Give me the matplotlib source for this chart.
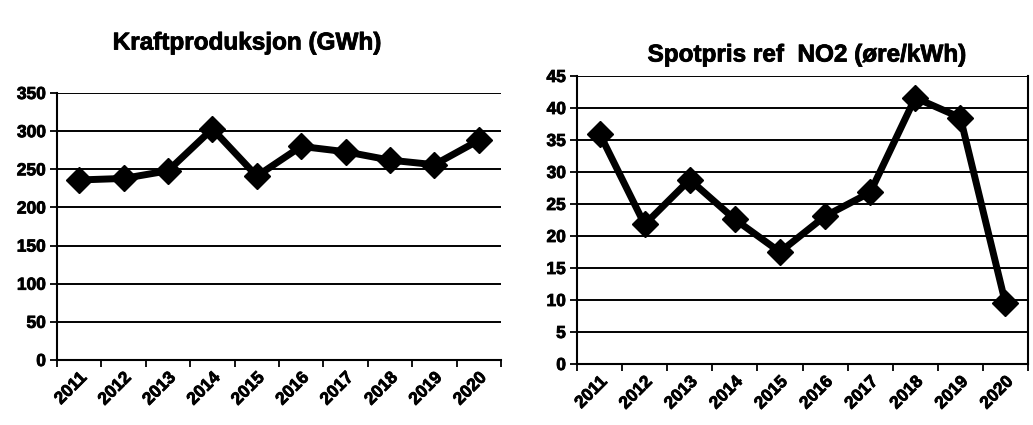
import matplotlib
matplotlib.use("Agg")
import matplotlib.pyplot as plt
import matplotlib.patheffects as pe
import numpy as np

plt.rcParams['font.family'] = ['Liberation Sans', 'DejaVu Sans']
plt.rcParams['font.weight'] = 'bold'

years = ['2011', '2012', '2013', '2014', '2015', '2016', '2017', '2018', '2019', '2020']
kraft_gwh = [236, 238, 248, 303, 241, 280, 273, 262, 256, 288]
spot_ore = [36.0, 21.8, 28.8, 22.6, 17.5, 23.1, 26.8, 41.6, 38.5, 9.5]

fig = plt.figure(figsize=(10.33, 4.25), dpi=100)
fig.patch.set_facecolor('white')
heavy = [pe.withStroke(linewidth=0.6, foreground='black')]

def style(ax, data, ymax, ystep, title, title_xy):
    x = np.arange(len(years))
    ax.plot(x, data, color='black', lw=5, marker='D', ms=13,
            mfc='black', mec='black', solid_joinstyle='round', zorder=3, clip_on=False)
    ax.set_xlim(-0.5, len(years) - 0.5)
    ax.set_ylim(0, ymax)
    ax.set_yticks(np.arange(0, ymax + ystep / 2, ystep))
    ax.yaxis.grid(True, color='black', lw=1.4)
    ax.set_axisbelow(True)
    ax.set_xticks(x)
    ax.set_xticklabels(years, rotation=45, ha='right', va='top',
                       rotation_mode='anchor', fontsize=12.5, fontweight='heavy')
    ax.set_xticks(np.arange(-0.5, len(years)), minor=True)
    ax.tick_params(axis='x', which='major', length=0, pad=7)
    ax.tick_params(axis='x', which='minor', length=5, width=1.3, color='black')
    ax.tick_params(axis='y', length=5, width=1.3, labelsize=12.5, pad=3)
    for lbl in ax.get_yticklabels() + ax.get_xticklabels():
        lbl.set_fontweight('heavy')
        lbl.set_path_effects(heavy)
    for s in ['top', 'right']:
        ax.spines[s].set_visible(False)
    for s in ['left', 'bottom']:
        ax.spines[s].set_linewidth(1.5)
        ax.spines[s].set_color('black')
    fig.text(title_xy[0], title_xy[1], title, ha='center', va='center',
             fontsize=17.5, fontweight='heavy', path_effects=heavy)

ax1 = fig.add_axes([57/1033, 1 - 360/425, (501 - 57)/1033, (360 - 93)/425])
style(ax1, kraft_gwh, 350, 50, 'Kraftproduksjon (GWh)', (247/1033, 1 - 43/425))

ax2 = fig.add_axes([577/1033, 1 - 364/425, (1028 - 577)/1033, (364 - 76)/425])
style(ax2, spot_ore, 45, 5, 'Spotpris ref  NO2 (øre/kWh)', (807/1033, 1 - 55/425))
ax2.spines['right'].set_visible(True)
ax2.spines['right'].set_linewidth(1.5)

fig.savefig('out.png', dpi=100, facecolor='white')
